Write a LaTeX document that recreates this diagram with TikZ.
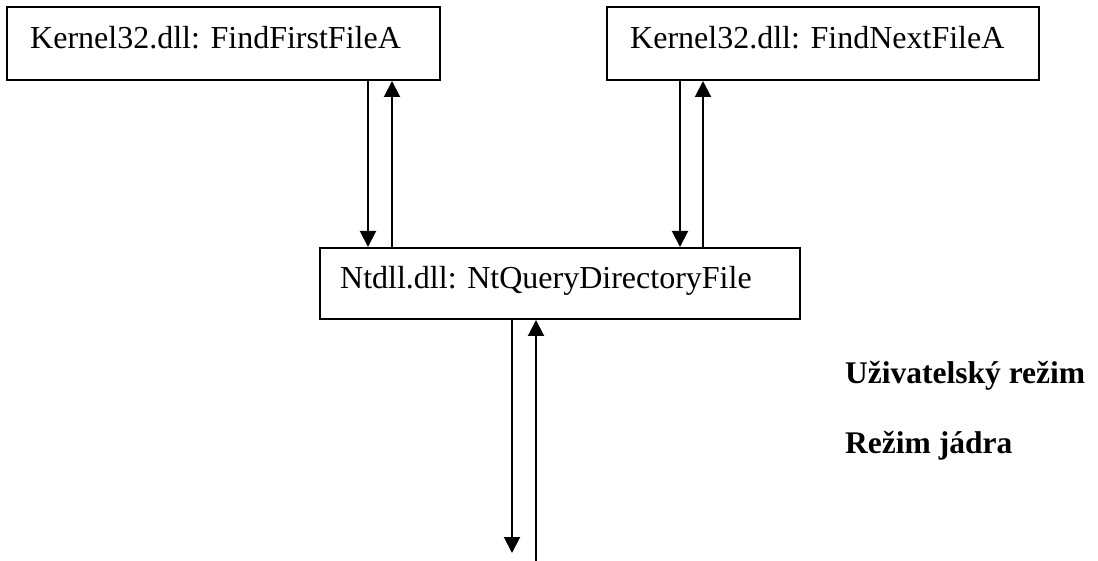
\documentclass[tikz,border=0pt]{standalone}
\usepackage{fontspec}
\setmainfont{Liberation Serif}
\usetikzlibrary{arrows.meta}
\tikzset{
  box/.style={draw, line width=2pt, inner sep=0pt},
  lbl/.style={inner sep=0pt, font=\fontsize{32}{36}\selectfont},
  blbl/.style={inner sep=0pt, font=\fontsize{31.5}{36}\selectfont\bfseries},
  arr/.style={line width=2pt, -{Triangle[width=16pt,length=16pt]}},
  ln/.style={line width=2pt}
}
\begin{document}
\begin{tikzpicture}[x=1pt,y=-1pt]
\useasboundingbox (0,0) rectangle (1098,561);
\node[box, minimum width=433pt, minimum height=73pt] (k1) at (223.5,43.5) {};
\node[lbl, anchor=base west] (k1t) at (30,49) {Kernel32.dll: FindFirstFileA};
\node[box, minimum width=432pt, minimum height=73pt] (k2) at (823,43.5) {};
\node[lbl, anchor=base west] (k2t) at (630,49) {Kernel32.dll: FindNextFileA};
\node[box, minimum width=480pt, minimum height=71pt] (nt) at (560,283.5) {};
\node[lbl, anchor=base west] (ntt) at (340,289) {Ntdll.dll: NtQueryDirectoryFile};
\node[blbl, anchor=base west] (um) at (845,383) {Uživatelský režim};
\node[blbl, anchor=base west] (km) at (845,453) {Režim jádra};
% connectors box1 <-> nt
\draw[arr] ([xshift=144.5pt]k1.south) -- ([xshift=144.5pt]k1.south |- nt.north);
\draw[arr] ([xshift=168.5pt]k1.south |- nt.north) -- ([xshift=168.5pt]k1.south);
% connectors box2 <-> nt
\draw[arr] ([xshift=-143pt]k2.south) -- ([xshift=-143pt]k2.south |- nt.north);
\draw[arr] ([xshift=-120pt]k2.south |- nt.north) -- ([xshift=-120pt]k2.south);
% bottom
\coordinate (d1) at (512,553);
\coordinate (d2) at (536,561);
\draw[arr] (nt.south -| d1) -- (d1);
\draw[arr] (d2) -- (nt.south -| d2);
\end{tikzpicture}
\end{document}
